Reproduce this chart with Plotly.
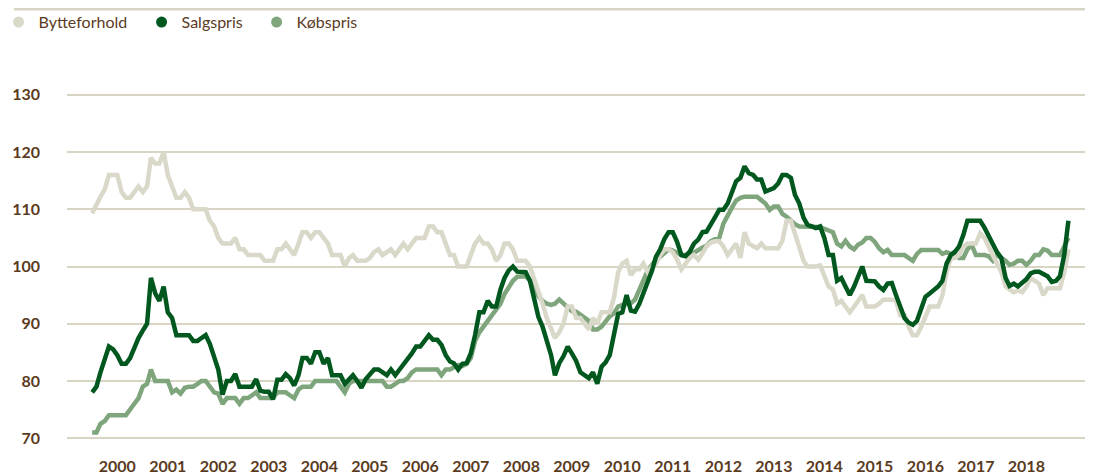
import pandas as pd
import plotly.graph_objects as go

# Månedlige indeks, jan 2000 - maj 2019
MAANEDER = pd.date_range("2000-01-01", periods=233, freq="MS")

BYTTEFORHOLD = [
    109.3, 111, 112.2, 113.5, 116, 116, 116, 113, 112, 112, 113, 114,          # 2000
    113, 114, 119, 118, 118, 120, 116, 114, 112, 112, 113, 112,                # 2001
    110, 110, 110, 110, 108, 107, 105, 104, 104, 104, 105, 103,                # 2002
    103, 102, 102, 102, 102, 101, 101, 101, 103, 103, 104, 103,                # 2003
    102, 104, 106, 106, 105, 106, 106, 105, 104, 102, 102, 102,                # 2004
    100, 101.5, 102, 101, 101, 101, 101.5, 102.5, 103, 102, 102.5, 103,        # 2005
    102, 103, 104, 103, 104, 105, 105, 105, 107, 107, 106, 106,                # 2006
    104, 102, 102, 100, 100, 100, 102, 104, 105, 104, 104, 103,                # 2007
    101, 102, 104, 104, 103, 101, 101, 101, 100, 98, 96, 93.5,                 # 2008
    91, 89, 87.5, 88.5, 90, 93, 93, 91, 91, 90, 89, 91,                        # 2009
    90, 92, 92, 92, 94.5, 99, 100.5, 101, 98.5, 99.5, 99.5, 100.5,             # 2010
    99, 100, 100.5, 102, 103, 103, 102.5, 101.2, 99.5, 100.5, 101.5, 102,      # 2011
    101.2, 102.3, 103.5, 104.2, 104.4, 104.4, 103.5, 102, 103.2, 104, 101.5, 106,  # 2012
    104, 103.5, 103.2, 104, 103.2, 103.2, 103.2, 103.2, 104.5, 108, 108, 105.5,    # 2013
    103, 101, 100, 100, 100, 100.2, 98.5, 96.5, 96, 93.5, 94, 93,              # 2014
    92, 93, 94, 95, 93, 93, 93, 93.5, 94.2, 94.2, 94.2, 94,                    # 2015
    91.5, 91.5, 89.5, 88, 88, 89.5, 91.5, 93, 93, 93, 95, 99,                  # 2016
    101.5, 101.5, 102, 103.5, 104, 104, 104, 105.8, 105, 103.5, 102, 100.8,    # 2017
    99, 96.5, 96, 95.5, 95.8, 95.5, 96.5, 98, 97.5, 97, 95, 96.2,              # 2018
    96.2, 96.2, 96.2, 99, 103,                                                 # 2019
]

SALGSPRIS = [
    78, 79, 81.5, 84, 86, 85.5, 84.5, 83, 83, 84, 86, 87.5,
    88.8, 90, 98, 95.3, 94, 96.5, 92, 91, 88, 88, 88, 88,
    87, 87, 87.5, 88, 86.5, 84.5, 82, 77.6, 80, 80, 81.2, 79,
    79, 79, 79, 80.3, 78.3, 78.1, 78.1, 76.8, 80.2, 80.2, 81.2, 80.5,
    79.2, 81, 84, 84, 83, 85, 85, 83, 84, 81, 81, 81,
    79.5, 80.2, 81, 80, 78.8, 80.3, 81.3, 82, 82, 81.5, 81, 82,
    81, 82, 82.8, 83.8, 84.8, 86, 86, 87, 88, 87.2, 87.2, 86.3,
    84.5, 83.4, 83.1, 82, 83, 83.1, 84.8, 88, 92, 92, 94, 93,
    93, 96, 98, 99.3, 100, 99.1, 99.1, 99, 97.5, 94.5, 91.2, 89.5,
    87.2, 84.5, 81, 83.1, 84.3, 86, 84.8, 83.5, 81.5, 81, 80.5, 81.5,
    79.5, 82.5, 83.2, 84.5, 88, 91.7, 92, 95, 92.3, 92.1, 93.5, 95.5,
    97, 99.3, 101.7, 103, 104.8, 106, 106, 104.3, 102, 101.8, 102.6, 104,
    104.7, 106, 106.1, 107.2, 108.6, 109.9, 109.9, 111, 113, 114.9, 115.5, 117.5,
    116.3, 116, 115.2, 115.2, 113.1, 113.5, 113.7, 114.5, 116, 116, 115.5, 112.5,
    111, 108.5, 107.3, 107, 106.7, 107, 105, 102, 102, 97.5, 98, 96.5,
    95, 96.5, 98.3, 100, 97.5, 97.4, 97.4, 96.5, 95.9, 97, 97.1, 95,
    93, 91, 90.2, 89.8, 90.5, 92.8, 94.7, 95.3, 95.8, 96.5, 97.5, 100.5,
    102, 102.6, 103.5, 105.5, 108, 108, 108, 108, 106.8, 105.3, 103.8, 102.5,
    101.5, 98, 96.6, 97, 96.5, 97.1, 97.8, 98.8, 99.1, 99.1, 98.7, 98.3,
    97.3, 97.5, 98.3, 102, 108,
]

KOEBSPRIS = [
    71, 71, 72.5, 73, 74, 74, 74, 74, 74, 75, 76, 77,
    79, 79.5, 82, 80, 80, 80, 80, 78, 78.5, 77.8, 78.8, 79,
    79, 79.5, 80, 80, 79, 78, 77.8, 76, 77, 77, 77, 76,
    77, 77, 77.5, 78, 77, 77, 77, 77, 78, 78, 78, 77.5,
    77, 78.5, 79, 79, 79, 80, 80, 80, 80, 80, 80, 79,
    78, 79.5, 80, 80, 80, 80, 80, 80, 80, 80, 79, 79,
    79.5, 80, 80, 80.5, 81.5, 82, 82, 82, 82, 82, 82, 81,
    82, 82, 82.3, 82.8, 82.6, 83, 84, 87, 88.5, 89.5, 90.5, 91.5,
    92.5, 93.5, 95.2, 96.5, 97.5, 98.2, 98.3, 98.3, 97.5, 96, 94.8, 94,
    93.5, 93.3, 93.5, 94.2, 93.5, 93, 92.2, 92.1, 91.5, 91.1, 90.5, 89,
    89, 89.5, 90.5, 91.3, 91.8, 93, 93.3, 93.4, 93.6, 94.2, 96, 97.5,
    99.3, 100.3, 101.2, 101.7, 102.3, 103, 102.8, 102.3, 102, 102, 102, 102.4,
    102.9, 103.3, 103.6, 104.4, 104.8, 105, 107.5, 109, 110.3, 111.5, 112, 112.2,
    112.2, 112.2, 112.2, 111.6, 111, 109.9, 110.5, 110.5, 109.2, 108.7, 108, 107.4,
    107, 107, 107, 107, 107, 106.9, 106.6, 106.3, 106, 104, 103.5, 104.5,
    103.5, 103, 103.8, 104.2, 105, 105, 104.3, 103.2, 102.5, 102.9, 102, 102,
    102, 102, 101.5, 101, 102.2, 102.9, 102.9, 102.9, 102.9, 102.9, 102.2, 102.5,
    102.2, 102, 101.5, 101.5, 103, 103.8, 102, 102, 102, 101.8, 101, 102,
    101.5, 101, 100.3, 100.5, 101, 101, 100.3, 101, 102, 102, 103, 102.8,
    102, 102, 102, 103.5, 105,
]

AAR = list(range(2000, 2019))
Y_TICKS = [70, 80, 90, 100, 110, 120, 130]

FARVER = {
    "Bytteforhold": "#d9d8c9",
    "Salgspris": "#00581f",
    "Købspris": "#7fa57d",
}
TEKST = "#5b3b1e"
GITTER = "#d8d5c5"

fig = go.Figure()

# Linjer (tegnerækkefølge: Købspris, Bytteforhold, Salgspris øverst)
for navn, vaerdier in [("Købspris", KOEBSPRIS), ("Bytteforhold", BYTTEFORHOLD),
                       ("Salgspris", SALGSPRIS)]:
    fig.add_trace(go.Scatter(
        x=MAANEDER, y=vaerdier, mode="lines", name=navn,
        line=dict(color=FARVER[navn], width=4.5),
        showlegend=False, hoverinfo="skip",
    ))

# Signaturforklaring med prikker - en legend pr. serie for at styre afstanden
legend_pos = {"legend": -0.0667, "legend2": 0.0727, "legend3": 0.1848}
for navn, lg in zip(["Bytteforhold", "Salgspris", "Købspris"], legend_pos):
    fig.add_trace(go.Scatter(
        x=[None], y=[None], mode="markers", name=navn, legend=lg,
        marker=dict(color=FARVER[navn], size=11),
    ))

fig.add_shape(
    type="line", xref="paper", yref="paper",
    x0=-0.0517, x1=1.0, y0=1.238, y1=1.238,
    line=dict(color=GITTER, width=3),
)

legend_stil = dict(
    orientation="h", xanchor="left", y=1.2, yanchor="middle",
    font=dict(family="Lato", size=16, color=TEKST),
    bgcolor="rgba(0,0,0,0)", itemclick=False,
)

fig.update_layout(
    width=1085, height=468,
    margin=dict(l=59, r=0, t=84, b=35, autoexpand=False),
    plot_bgcolor="white", paper_bgcolor="white",
    font=dict(family="Lato", color=TEKST, size=15),
    showlegend=True,
    legend=dict(x=legend_pos["legend"], **legend_stil),
    legend2=dict(x=legend_pos["legend2"], **legend_stil),
    legend3=dict(x=legend_pos["legend3"], **legend_stil),
    xaxis=dict(
        type="date",
        range=["1999-07-03", "2019-10-26"],
        tickvals=[f"{a}-07-01" for a in AAR],
        ticktext=[str(a) for a in AAR],
        showgrid=False, zeroline=False, showline=False,
        tickfont=dict(family="Lato", size=16, color=TEKST, weight="bold"),
        ticklabelstandoff=14,
    ),
    yaxis=dict(
        range=[69.5, 130.5],
        tickvals=Y_TICKS,
        showgrid=True, gridcolor=GITTER, gridwidth=1.5,
        zeroline=False, showline=False,
        tickfont=dict(family="Lato", size=16, color=TEKST, weight="bold"),
        ticklabelstandoff=26,
    ),
)

fig.write_html("out.html")
